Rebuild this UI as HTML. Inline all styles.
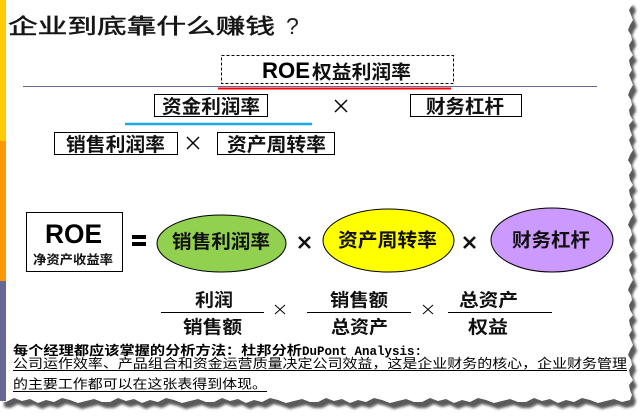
<!DOCTYPE html>
<html>
<head>
<meta charset="utf-8">
<style>
html,body{margin:0;padding:0;background:#fff;}
body{width:644px;height:417px;overflow:hidden;position:relative;}
svg{position:absolute;left:0;top:0;}
.cj{font-family:"Liberation Sans","Noto Sans CJK SC",sans-serif;font-weight:bold;fill:#111;}
.ser{font-family:"Liberation Sans","Noto Sans CJK SC",sans-serif;fill:#000;}
</style>
</head>
<body>
<svg width="644" height="417" viewBox="0 0 644 417" xmlns="http://www.w3.org/2000/svg">
<defs>
<filter id="blur" x="-5%" y="-5%" width="110%" height="110%"><feGaussianBlur stdDeviation="1.4"/></filter>
</defs>
<!-- torn page shadow -->
<g transform="translate(4,6)" filter="url(#blur)">
<polygon fill="#5a5a5a" points="0,0 630,0 632,5 629,10 631,15 633,20 630,25 628,30 631,35 632,40 629,45 630,50 633,55 629,60 630,65 632,70 629,75 631,80 633,85 630,90 628,95 631,100 632,105 629,110 630,115 633,120 629,125 630,130 632,135 629,140 631,145 633,150 630,155 628,160 631,165 632,170 629,175 630,180 633,185 629,190 630,195 632,200 629,205 631,210 633,215 630,220 628,225 631,230 632,235 629,240 630,245 633,250 629,255 630,260 632,265 629,270 631,275 633,280 630,285 628,290 631,295 632,300 629,305 630,310 633,315 629,320 630,325 632,330 629,335 631,340 633,345 630,350 628,355 631,360 632,365 629,370 630,375 633,380 629,385 630,390 632,395 630,400 622,402 614,399 606,401 598,403 590,400 582,398 574,402 566,400 558,403 550,399 542,401 534,398 526,402 518,402 510,399 502,401 494,403 486,400 478,398 470,402 462,400 454,403 446,399 438,401 430,398 422,402 414,402 406,399 398,401 390,403 382,400 374,398 366,402 358,400 350,403 342,399 334,401 326,398 318,402 310,402 302,399 294,401 286,403 278,400 270,398 262,402 254,400 246,403 238,399 230,401 222,398 214,402 206,402 198,399 190,401 182,403 174,400 166,398 158,402 150,400 142,403 134,399 126,401 118,398 110,402 102,402 94,399 86,401 78,403 70,400 62,398 54,402 46,400 38,403 30,399 22,401 14,398 6,402 0,401"/>
</g>
<!-- white page -->
<polygon fill="#ffffff" points="0,0 630,0 632,5 629,10 631,15 633,20 630,25 628,30 631,35 632,40 629,45 630,50 633,55 629,60 630,65 632,70 629,75 631,80 633,85 630,90 628,95 631,100 632,105 629,110 630,115 633,120 629,125 630,130 632,135 629,140 631,145 633,150 630,155 628,160 631,165 632,170 629,175 630,180 633,185 629,190 630,195 632,200 629,205 631,210 633,215 630,220 628,225 631,230 632,235 629,240 630,245 633,250 629,255 630,260 632,265 629,270 631,275 633,280 630,285 628,290 631,295 632,300 629,305 630,310 633,315 629,320 630,325 632,330 629,335 631,340 633,345 630,350 628,355 631,360 632,365 629,370 630,375 633,380 629,385 630,390 632,395 630,400 622,402 614,399 606,401 598,403 590,400 582,398 574,402 566,400 558,403 550,399 542,401 534,398 526,402 518,402 510,399 502,401 494,403 486,400 478,398 470,402 462,400 454,403 446,399 438,401 430,398 422,402 414,402 406,399 398,401 390,403 382,400 374,398 366,402 358,400 350,403 342,399 334,401 326,398 318,402 310,402 302,399 294,401 286,403 278,400 270,398 262,402 254,400 246,403 238,399 230,401 222,398 214,402 206,402 198,399 190,401 182,403 174,400 166,398 158,402 150,400 142,403 134,399 126,401 118,398 110,402 102,402 94,399 86,401 78,403 70,400 62,398 54,402 46,400 38,403 30,399 22,401 14,398 6,402 0,401"/>

<!-- left color bars -->
<rect x="0" y="0" width="6" height="141" fill="#FFCC00"/>
<rect x="0" y="141" width="6" height="140" fill="#FF9900"/>
<rect x="0" y="281" width="6" height="120" fill="#666699"/>

<!-- title -->
<text x="8" y="33.5" font-family="'Liberation Sans','Noto Sans CJK SC',sans-serif" font-size="21" fill="#161616" stroke="#161616" stroke-width="0.5" textLength="267" lengthAdjust="spacingAndGlyphs">企业到底靠什么赚钱</text>
<text x="286" y="34" font-family="'Liberation Sans',sans-serif" font-size="23" fill="#222">?</text>

<!-- ROE dashed box -->
<rect x="221.5" y="55.5" width="232" height="28" fill="none" stroke="#000" stroke-width="1" stroke-dasharray="3,2"/>
<text x="262" y="78" font-family="'Liberation Sans',sans-serif" font-weight="bold" font-size="22" fill="#000" textLength="48" lengthAdjust="spacingAndGlyphs">ROE</text>
<text class="cj" x="312" y="78.5" font-size="19" textLength="99" lengthAdjust="spacingAndGlyphs">权益利润率</text>

<!-- purple and red lines -->
<line x1="23" y1="86.5" x2="597" y2="86.5" stroke="#666699" stroke-width="1"/>
<line x1="218" y1="88.5" x2="451" y2="88.5" stroke="#FF0000" stroke-width="2"/>

<!-- row 2 -->
<rect x="154.5" y="94.5" width="113" height="22" fill="#fff" stroke="#000" stroke-width="1"/>
<text class="cj" x="162" y="113" font-size="19" textLength="98" lengthAdjust="spacingAndGlyphs">资金利润率</text>
<g stroke="#000" stroke-width="1.4"><line x1="335" y1="100" x2="347" y2="112"/><line x1="347" y1="100" x2="335" y2="112"/></g>
<rect x="410.5" y="94.5" width="111" height="22" fill="#fff" stroke="#000" stroke-width="1"/>
<text class="cj" x="426" y="113" font-size="19" textLength="78" lengthAdjust="spacingAndGlyphs">财务杠杆</text>

<!-- cyan line -->
<line x1="125" y1="124" x2="312" y2="124" stroke="#12ABE6" stroke-width="2.5"/>

<!-- row 3 -->
<rect x="54.5" y="132.5" width="123" height="22" fill="#fff" stroke="#000" stroke-width="1"/>
<text class="cj" x="66" y="151" font-size="19" textLength="99" lengthAdjust="spacingAndGlyphs">销售利润率</text>
<g stroke="#000" stroke-width="1.4"><line x1="187" y1="137" x2="199" y2="149"/><line x1="199" y1="137" x2="187" y2="149"/></g>
<rect x="217.5" y="132.5" width="117" height="22" fill="#fff" stroke="#000" stroke-width="1"/>
<text class="cj" x="227" y="151" font-size="19" textLength="99" lengthAdjust="spacingAndGlyphs">资产周转率</text>

<!-- ROE equation -->
<rect x="26.5" y="212.5" width="96" height="59" fill="#fff" stroke="#000" stroke-width="1"/>
<text x="45" y="243" font-family="'Liberation Sans',sans-serif" font-weight="bold" font-size="27" fill="#000" textLength="57" lengthAdjust="spacingAndGlyphs">ROE</text>
<text class="cj" x="33" y="264" font-size="12.5" textLength="80" lengthAdjust="spacingAndGlyphs">净资产收益率</text>

<rect x="132" y="235" width="14" height="4" fill="#000"/>
<rect x="132" y="242" width="14" height="4" fill="#000"/>

<ellipse cx="221.5" cy="243.5" rx="64.5" ry="28.5" fill="#92D050" stroke="#000" stroke-width="1"/>
<text class="cj" x="172" y="248" font-size="19" textLength="98" lengthAdjust="spacingAndGlyphs">销售利润率</text>

<g stroke="#111" stroke-width="2.6"><line x1="299" y1="237" x2="310" y2="248"/><line x1="310" y1="237" x2="299" y2="248"/></g>

<ellipse cx="388.5" cy="240.5" rx="65.5" ry="31.5" fill="#FFFF00" stroke="#000" stroke-width="1"/>
<text class="cj" x="338" y="246.5" font-size="19" textLength="99" lengthAdjust="spacingAndGlyphs">资产周转率</text>

<g stroke="#111" stroke-width="2.6"><line x1="464" y1="237" x2="475" y2="248"/><line x1="475" y1="237" x2="464" y2="248"/></g>

<ellipse cx="552" cy="240" rx="61" ry="32" fill="#CC99FF" stroke="#000" stroke-width="1"/>
<text class="cj" x="512" y="246.5" font-size="19" textLength="78" lengthAdjust="spacingAndGlyphs">财务杠杆</text>

<!-- fractions -->
<g stroke="#000" stroke-width="1">
<line x1="161" y1="312.5" x2="264" y2="312.5"/>
<line x1="307" y1="312.5" x2="411" y2="312.5"/>
<line x1="448" y1="312.5" x2="552" y2="312.5"/>
<line x1="275" y1="305" x2="285" y2="314"/><line x1="285" y1="305" x2="275" y2="314"/>
<line x1="423" y1="305" x2="433" y2="314"/><line x1="433" y1="305" x2="423" y2="314"/>
</g>
<text class="cj" x="195" y="306.5" font-size="18" textLength="38" lengthAdjust="spacingAndGlyphs">利润</text>
<text class="cj" x="183" y="333.5" font-size="18" textLength="59" lengthAdjust="spacingAndGlyphs">销售额</text>
<text class="cj" x="330" y="306.5" font-size="18" textLength="58" lengthAdjust="spacingAndGlyphs">销售额</text>
<text class="cj" x="331" y="333.5" font-size="18" textLength="57" lengthAdjust="spacingAndGlyphs">总资产</text>
<text class="cj" x="459" y="306.5" font-size="18" textLength="59" lengthAdjust="spacingAndGlyphs">总资产</text>
<text class="cj" x="468" y="333.5" font-size="18" textLength="40" lengthAdjust="spacingAndGlyphs">权益</text>

<!-- bottom text -->
<text class="ser" x="13" y="355" font-size="13" font-weight="bold" textLength="289" lengthAdjust="spacingAndGlyphs">每个经理都应该掌握的分析方法：杜邦分析</text>
<text x="302" y="355" font-family="'Liberation Mono',monospace" font-weight="bold" font-size="12.5" fill="#000" textLength="120" lengthAdjust="spacingAndGlyphs">DuPont Analysis:</text>
<text class="ser" x="13" y="368" font-size="13" textLength="614" lengthAdjust="spacingAndGlyphs">公司运作效率、产品组合和资金运营质量决定公司效益，这是企业财务的核心，企业财务管理</text>
<line x1="13" y1="370.5" x2="627" y2="370.5" stroke="#000" stroke-width="1"/>
<text class="ser" x="13" y="388.5" font-size="13" textLength="254" lengthAdjust="spacingAndGlyphs">的主要工作都可以在这张表得到体现。</text>
<line x1="13" y1="391.5" x2="267" y2="391.5" stroke="#000" stroke-width="1"/>
</svg>
</body>
</html>
